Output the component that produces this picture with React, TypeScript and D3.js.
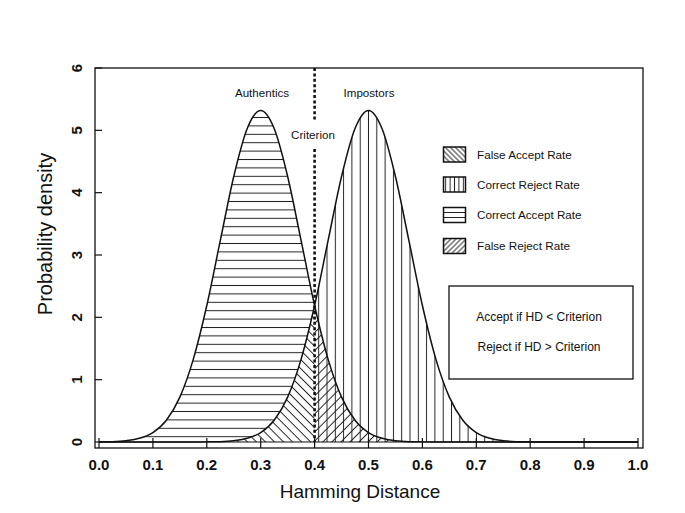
import React from "react";
import * as d3 from "d3";

// Hamming distance grid (0.0 .. 1.0, step 0.025)
const HD = [
  0.0, 0.025, 0.05, 0.075, 0.1, 0.125, 0.15, 0.175, 0.2, 0.225,
  0.25, 0.275, 0.3, 0.325, 0.35, 0.375, 0.4, 0.425, 0.45, 0.475,
  0.5, 0.525, 0.55, 0.575, 0.6, 0.625, 0.65, 0.675, 0.7, 0.725,
  0.75, 0.775, 0.8, 0.825, 0.85, 0.875, 0.9, 0.925, 0.95, 0.975, 1.0,
];
// Authentics density
const AUTHENTICS = [
  0.002, 0.006, 0.021, 0.059, 0.152, 0.35, 0.72, 1.33, 2.19, 3.23,
  4.26, 5.03, 5.32, 5.03, 4.26, 3.23, 2.19, 1.33, 0.72, 0.35,
  0.152, 0.059, 0.021, 0.006, 0.002, 0, 0, 0, 0, 0,
  0, 0, 0, 0, 0, 0, 0, 0, 0, 0, 0,
];
// Impostors density
const IMPOSTORS = [
  0, 0, 0, 0, 0, 0, 0, 0, 0.002, 0.006,
  0.021, 0.059, 0.152, 0.35, 0.72, 1.33, 2.19, 3.23, 4.26, 5.03,
  5.32, 5.03, 4.26, 3.23, 2.19, 1.33, 0.72, 0.35, 0.152, 0.059,
  0.021, 0.006, 0.002, 0, 0, 0, 0, 0, 0, 0, 0,
];
const CRITERION = 0.4;
const X_TICKS = [0, 0.1, 0.2, 0.3, 0.4, 0.5, 0.6, 0.7, 0.8, 0.9, 1.0];
const Y_TICKS = [0, 1, 2, 3, 4, 5, 6];
const LEGEND = [
  { label: "False Accept Rate", pat: "lgFA" },
  { label: "Correct Reject Rate", pat: "lgCR" },
  { label: "Correct Accept Rate", pat: "lgCA" },
  { label: "False Reject Rate", pat: "lgFR" },
];
const RULES = ["Accept if HD < Criterion", "Reject if HD > Criterion"];

const FONT = "'Liberation Sans', Arial, Helvetica, sans-serif";
const INK = "#111";
const HATCH = "#222";

export default function App() {
  const W = 685, H = 513;
  const box = { l: 95, r: 643, t: 68, b: 448 };
  const x = d3.scaleLinear().domain([0, 1]).range([99, 638]);
  const y = d3.scaleLinear().domain([0, 6]).range([442, 68]);
  const idx = HD.map((_, i) => i);
  const curve = d3.curveMonotoneX;

  const line = (vals: number[]) =>
    d3.line<number>().x((i) => x(HD[i])).y((i) => y(vals[i])).curve(curve)(idx) || "";
  const area = (top: number[], bottom: number[] | null) =>
    d3
      .area<number>()
      .x((i) => x(HD[i]))
      .y0((i) => y(bottom ? bottom[i] : 0))
      .y1((i) => y(top[i]))
      .curve(curve)(idx) || "";

  const xc = x(CRITERION);
  const hSp = 8.4, vSp = 8.3, dSp = 6.4;

  return (
    <svg
      width={W}
      height={H}
      style={{ position: "absolute", left: 0, top: 0, background: "#fff" }}
      fontFamily={FONT}
    >
      <defs>
        <clipPath id="leftOf">
          <rect x={0} y={0} width={xc} height={H} />
        </clipPath>
        <clipPath id="rightOf">
          <rect x={xc} y={0} width={W - xc} height={H} />
        </clipPath>
        <pattern id="pH" patternUnits="userSpaceOnUse" width={12} height={hSp} y={436.7 - hSp / 2}>
          <line x1={0} x2={12} y1={hSp / 2} y2={hSp / 2} stroke={HATCH} strokeWidth={1} />
        </pattern>
        <pattern id="pV" patternUnits="userSpaceOnUse" width={vSp} height={12} x={x(0.5) - vSp / 2}>
          <line x1={vSp / 2} x2={vSp / 2} y1={0} y2={12} stroke={HATCH} strokeWidth={1} />
        </pattern>
        <pattern id="pFA" patternUnits="userSpaceOnUse" width={dSp} height={12} patternTransform="rotate(-45)">
          <line x1={dSp / 2} x2={dSp / 2} y1={0} y2={12} stroke={HATCH} strokeWidth={1} />
        </pattern>
        <pattern id="pFR" patternUnits="userSpaceOnUse" width={dSp} height={12} patternTransform="rotate(45)">
          <line x1={dSp / 2} x2={dSp / 2} y1={0} y2={12} stroke={HATCH} strokeWidth={1} />
        </pattern>
        <pattern id="lgCA" patternUnits="userSpaceOnUse" width={10} height={5} y={0}>
          <line x1={0} x2={10} y1={2.5} y2={2.5} stroke={HATCH} strokeWidth={1} />
        </pattern>
        <pattern id="lgCR" patternUnits="userSpaceOnUse" width={4.4} height={10} x={443.5}>
          <line x1={2.2} x2={2.2} y1={0} y2={10} stroke={HATCH} strokeWidth={1} />
        </pattern>
        <pattern id="lgFA" patternUnits="userSpaceOnUse" width={3.6} height={10} patternTransform="rotate(-45)">
          <line x1={1.8} x2={1.8} y1={0} y2={10} stroke={HATCH} strokeWidth={1} />
        </pattern>
        <pattern id="lgFR" patternUnits="userSpaceOnUse" width={3.6} height={10} patternTransform="rotate(45)">
          <line x1={1.8} x2={1.8} y1={0} y2={10} stroke={HATCH} strokeWidth={1} />
        </pattern>
      </defs>

      {/* hatched regions */}
      <path d={area(AUTHENTICS, IMPOSTORS)} fill="url(#pH)" clipPath="url(#leftOf)" />
      <path d={area(IMPOSTORS, null)} fill="url(#pFA)" clipPath="url(#leftOf)" />
      <path d={area(IMPOSTORS, null)} fill="url(#pV)" clipPath="url(#rightOf)" />
      <path d={area(AUTHENTICS, null)} fill="url(#pFR)" clipPath="url(#rightOf)" />

      {/* density curves */}
      <path d={line(AUTHENTICS)} fill="none" stroke={INK} strokeWidth={1.5} />
      <path d={line(IMPOSTORS)} fill="none" stroke={INK} strokeWidth={1.5} />

      {/* criterion */}
      <line x1={xc} x2={xc} y1={box.t} y2={121} stroke={INK} strokeWidth={2.6} strokeDasharray="3,2.4" />
      <line x1={xc} x2={xc} y1={149} y2={442} stroke={INK} strokeWidth={2.6} strokeDasharray="3,2.4" />

      {/* frame */}
      <rect x={box.l} y={box.t} width={box.r - box.l} height={box.b - box.t} fill="none" stroke={INK} strokeWidth={1.3} />
      {/* x axis */}
      <line x1={x(0)} x2={x(1)} y1={y(0)} y2={y(0)} stroke={INK} strokeWidth={1.2} />
      {X_TICKS.map((t) => (
        <g key={"xt" + t}>
          <line x1={x(t)} x2={x(t)} y1={y(0) - 4} y2={box.b} stroke={INK} strokeWidth={1.2} />
          <text x={x(t)} y={470} textAnchor="middle" fontSize={15} fontWeight="bold" fill={INK}>
            {t.toFixed(1)}
          </text>
        </g>
      ))}
      {Y_TICKS.map((t) => (
        <g key={"yt" + t}>
          <line x1={box.l} x2={box.l + 7} y1={y(t)} y2={y(t)} stroke={INK} strokeWidth={1.2} />
          <text
            transform={`translate(82,${y(t)}) rotate(-90)`}
            textAnchor="middle"
            fontSize={15}
            fontWeight="bold"
            fill={INK}
          >
            {t}
          </text>
        </g>
      ))}

      <text x={360} y={498} textAnchor="middle" fontSize={19} fill={INK}>
        Hamming Distance
      </text>
      <text transform={`translate(52,234) rotate(-90)`} textAnchor="middle" fontSize={20} fill={INK}>
        Probability density
      </text>

      {/* curve labels */}
      <text x={262} y={97} textAnchor="middle" fontSize={11.6} fill={INK}>Authentics</text>
      <text x={369} y={97} textAnchor="middle" fontSize={11.6} fill={INK}>Impostors</text>
      <text x={313} y={139} textAnchor="middle" fontSize={11.6} fill={INK}>Criterion</text>

      {/* legend */}
      {LEGEND.map((d, i) => {
        const ys = [147, 177, 207.5, 238.5][i];
        return (
          <g key={d.label}>
            <rect x={443.5} y={ys} width={22} height={15} fill={`url(#${d.pat})`} stroke={INK} strokeWidth={1.5} />
            <text x={477} y={ys + 11.5} fontSize={11.7} fill={INK}>{d.label}</text>
          </g>
        );
      })}

      {/* decision rule box */}
      <rect x={449} y={286} width={184} height={93} fill="#fff" stroke={INK} strokeWidth={1.3} />
      {RULES.map((r, i) => (
        <text key={r} x={539} y={321 + i * 29.5} textAnchor="middle" fontSize={12} fill={INK}>
          {r}
        </text>
      ))}
    </svg>
  );
}
